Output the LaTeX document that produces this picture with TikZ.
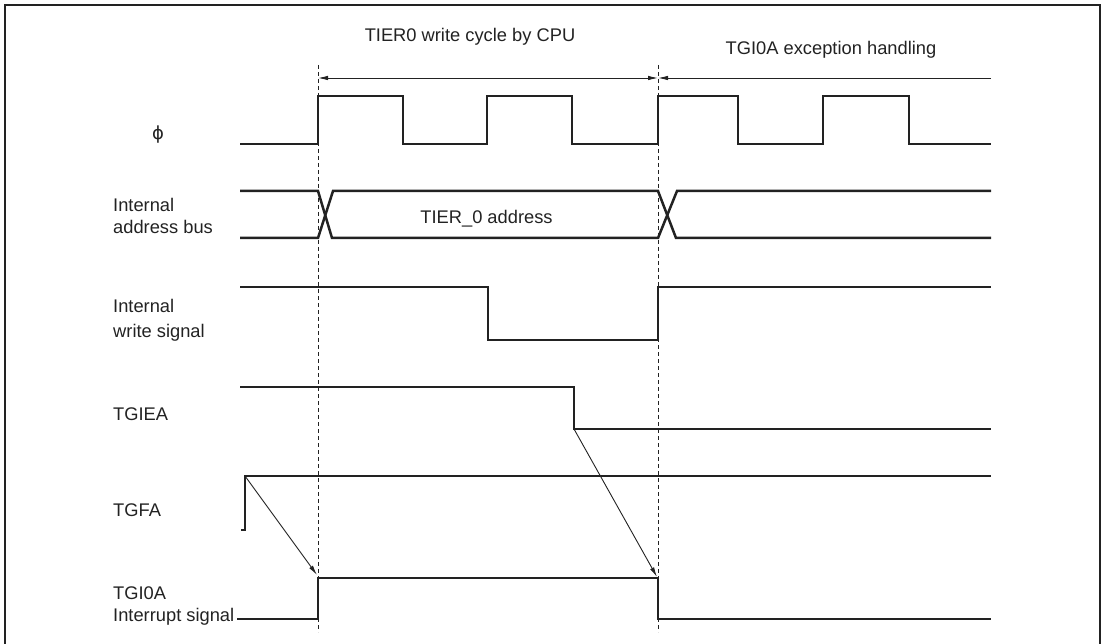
\documentclass[tikz,border=0pt]{standalone}
\usepackage{fontspec}
\setmainfont{Liberation Sans}
\newfontfamily\phifont{DejaVu Sans}
\usetikzlibrary{arrows.meta}
\definecolor{ink}{HTML}{222222}
\begin{document}
\begin{tikzpicture}[x=1pt,y=-1pt,
  sig/.style={draw=ink,line width=2.5pt,line join=miter},
  guide/.style={draw=ink,line width=0.9pt,dash pattern=on 4pt off 3pt},
  tip/.style={-{Latex[length=10pt,width=4.5pt]}},
  thinline/.style={draw=ink,line width=0.9pt},
  lbl/.style={anchor=base west,inner sep=0pt,text=ink,font=\fontsize{18.3}{22}\selectfont},
  ttl/.style={anchor=base,inner sep=0pt,text=ink,font=\fontsize{18.3}{22}\selectfont}]
\useasboundingbox (0,0) rectangle (1105,644);
% frame
\draw[draw=ink,line width=2.2pt] (5,644) -- (5,5) -- (1100,5) -- (1100,644);
% titles
\node[ttl] (t1) at (470,41.7) {TIER0 write cycle by CPU};
\node[ttl] (t2) at (831,55) {TGI0A exception handling};
% guide coordinates
\coordinate (g1t) at (318,65); \coordinate (g1b) at (318,632);
\coordinate (g2t) at (658,65); \coordinate (g2b) at (658,632);
\draw[guide] (g1t) -- (g1b);
\draw[guide] (g2t) -- (g2b);
\coordinate (a1) at (318,78); \coordinate (a2) at (658,78); \coordinate (a3) at (991,78);
\draw[thinline,{Latex[length=10pt,width=4.5pt]}-{Latex[length=10pt,width=4.5pt]}] (a1) -- (a2);
\draw[thinline,tip] (a3) -- (a2);
% labels
\node[font=\phifont\fontsize{18}{20}\selectfont,text=ink,inner sep=0pt] (lphi) at (158,135) {ϕ};
\node[lbl] (la1) at (113,212) {Internal};
\node[lbl] (la2) at (113,234) {address bus};
\node[lbl] (lw1) at (113,312) {Internal};
\node[lbl] (lw2) at (113,337) {write signal};
\node[lbl] (lie) at (113,420.7) {TGIEA};
\node[lbl] (lfa) at (113,516.7) {TGFA};
\node[lbl] (li1) at (113,599) {TGI0A};
\node[lbl] (li2) at (113,621.7) {Interrupt signal};
\node[ttl] (addr) at (486.5,224) {TIER\_0 address};
% phi clock
\draw[sig] (240,144) -- (318,144) -- (318,96) -- (403,96) -- (403,144) -- (487,144) -- (487,96) -- (572,96) -- (572,144) -- (658,144) -- (658,96) -- (738,96) -- (738,144) -- (823,144) -- (823,96) -- (909,96) -- (909,144) -- (991,144);
% address bus
\draw[sig] (240,191) -- (318,191) -- (332,238) -- (658,238) -- (677,191) -- (991,191);
\draw[sig] (240,238) -- (318,238) -- (333,191) -- (658,191) -- (676,238) -- (991,238);
% write signal
\draw[sig] (240,287) -- (488,287) -- (488,340) -- (658,340) -- (658,287) -- (991,287);
% TGIEA
\coordinate (ief) at (574,429);
\draw[sig] (240,387) -- (574,387) -- (ief) -- (991,429);
% TGFA
\coordinate (far) at (245,476);
\draw[sig] (241,530) -- (245,530) -- (far) -- (991,476);
% TGI0A
\draw[sig] (237,619) -- (318,619) -- (318,578) -- (658,578) -- (658,619) -- (991,619);
% causal arrows
\coordinate (ir) at (317,575);
\coordinate (if) at (657,577);
\draw[thinline,tip] (far) -- (ir);
\draw[thinline,tip] (ief) -- (if);
\end{tikzpicture}
\end{document}
